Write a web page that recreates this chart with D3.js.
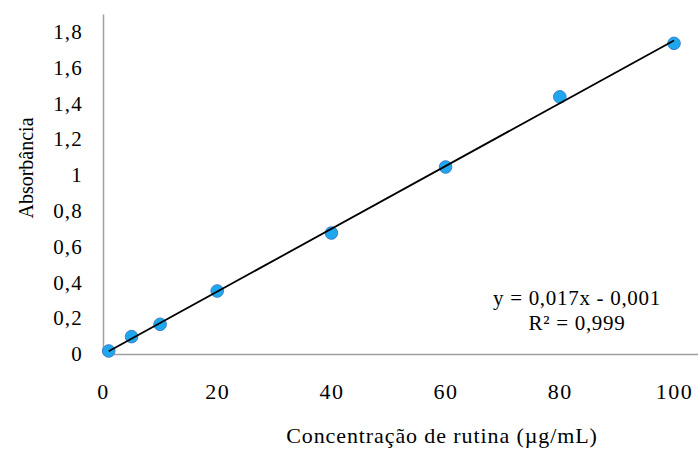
<!DOCTYPE html>
<html>
<head>
<meta charset="utf-8">
<script src="https://cdn.jsdelivr.net/npm/d3@7"></script>
<style>
  body { margin: 0; background: #fff; }
  svg text { font-family: "Liberation Serif", "Times New Roman", serif; fill: #000; }
</style>
</head>
<body>
<svg id="chart"></svg>
<script>
// data
var concentration = [1, 5, 10, 20, 40, 60, 80, 100];
var absorbance = [0.017, 0.097, 0.166, 0.352, 0.676, 1.045, 1.437, 1.736];
var yTicks = [0, 0.2, 0.4, 0.6, 0.8, 1, 1.2, 1.4, 1.6, 1.8];
var xTicks = [0, 20, 40, 60, 80, 100];
var equationText = "y = 0,017x - 0,001";
var r2Text = "R\u00b2 = 0,999";

var width = 698, height = 449;
var svg = d3.select("#chart").attr("width", width).attr("height", height);

// set the ranges
var x = d3.scaleLinear().domain([0, 104.2]).range([103, 698]);
var y = d3.scaleLinear().domain([0, 1.9]).range([354, 14]);

var fmt = function(d) { return String(d).replace(".", ","); };

// axes, no tick marks
var xAxis = svg.append("g")
    .attr("transform", "translate(0," + y(0) + ")")
    .call(d3.axisBottom(x).tickValues(xTicks).tickSize(0).tickPadding(29).tickFormat(fmt));
var yAxis = svg.append("g")
    .attr("transform", "translate(" + x(0) + ",0)")
    .call(d3.axisLeft(y).tickValues(yTicks).tickSize(0).tickPadding(20).tickFormat(fmt));

[xAxis, yAxis].forEach(function(g) {
  g.attr("font-family", null).attr("font-size", null);
  g.select(".domain").attr("stroke", "#a0a0a0").attr("stroke-width", 1.5);
  g.selectAll("text").attr("fill", "#000");
});
xAxis.selectAll("text").attr("font-size", 22).style("letter-spacing", "1.5px");
yAxis.selectAll("text").attr("font-size", 21).style("letter-spacing", "1.2px");

// linear trendline from least squares
var mx = d3.mean(concentration), my = d3.mean(absorbance);
var sxy = d3.sum(concentration, function(c, i) { return (c - mx) * (absorbance[i] - my); });
var sxx = d3.sum(concentration, function(c) { return (c - mx) * (c - mx); });
var slope = sxy / sxx, intercept = my - slope * mx;
var ends = [d3.min(concentration), d3.max(concentration)];

// points
svg.selectAll(".pt")
    .data(concentration)
  .enter().append("circle")
    .attr("class", "pt")
    .attr("cx", function(d) { return x(d); })
    .attr("cy", function(d, i) { return y(absorbance[i]); })
    .attr("r", 6.3)
    .attr("fill", "#1ea7ec")
    .attr("stroke", "#3f7fcf")
    .attr("stroke-width", 1);

// trendline on top of the points
svg.append("line")
    .attr("x1", x(ends[0])).attr("y1", y(slope * ends[0] + intercept))
    .attr("x2", x(ends[1])).attr("y2", y(slope * ends[1] + intercept))
    .attr("stroke", "#000").attr("stroke-width", 1.8);

// equation label
svg.append("text")
    .attr("x", 577).attr("y", 305)
    .attr("text-anchor", "middle").attr("font-size", 21)
    .style("letter-spacing", "0.7px")
    .text(equationText);
svg.append("text")
    .attr("x", 577).attr("y", 330)
    .attr("text-anchor", "middle").attr("font-size", 21)
    .style("letter-spacing", "0.7px")
    .text(r2Text);

// axis titles
svg.append("text")
    .attr("x", 442).attr("y", 443)
    .attr("text-anchor", "middle").attr("font-size", 22)
    .style("letter-spacing", "0.9px")
    .text("Concentração de rutina (µg/mL)");
svg.append("text")
    .attr("transform", "translate(33,168) rotate(-90)")
    .attr("text-anchor", "middle").attr("font-size", 20)
    .text("Absorbância");
</script>
</body>
</html>
